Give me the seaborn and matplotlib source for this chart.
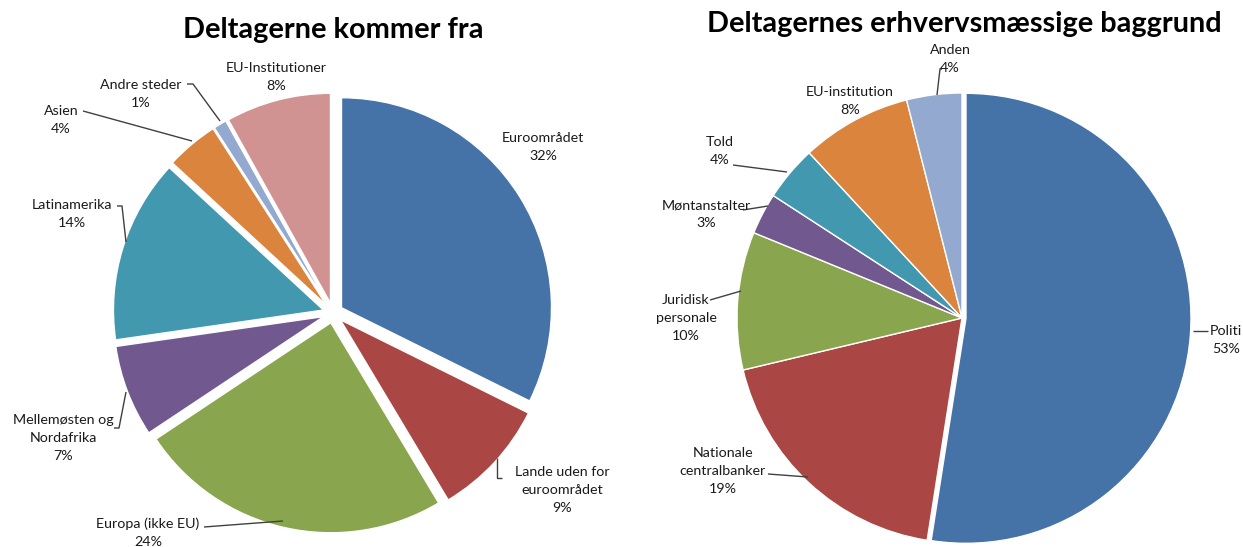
import numpy as np
import matplotlib
matplotlib.use("Agg")
import matplotlib.pyplot as plt
import seaborn as sns

# ---------------- data ----------------
left_title = "Deltagerne kommer fra"
left_labels = ["Euroområdet", "Lande uden for\neuroområdet", "Europa (ikke EU)",
               "Mellemøsten og\nNordafrika", "Latinamerika", "Asien",
               "Andre steder", "EU-Institutioner"]
left_values = [32, 9, 24, 7, 14, 4, 1, 8]

right_title = "Deltagernes erhvervsmæssige baggrund"
right_labels = ["Politi", "Nationale\ncentralbanker", "Juridisk\npersonale",
                "Møntanstalter", "Told", "EU-institution", "Anden"]
right_values = [53, 19, 10, 3, 4, 8, 4]

left_colors = ["#4572A7", "#AA4643", "#89A54E", "#71588F", "#4198AF",
               "#DB843D", "#93A9CF", "#D19392"]
right_colors = ["#4572A7", "#AA4643", "#89A54E", "#71588F", "#4198AF",
                "#DB843D", "#93A9CF"]

# ---------------- layout ----------------
W, H = 1243, 547
sns.set_theme(style="white")
plt.rcParams["font.family"] = ["Lato", "DejaVu Sans"]

fig = plt.figure(figsize=(W / 100, H / 100), dpi=100)
ax = fig.add_axes([0, 0, 1, 1])

def py(y):
    return H - y

# label text positions (pixel coords, center of text block) and leader polyline
left_layout = [
    dict(pos=(543, 147), line=None),
    dict(pos=(562, 490), line=[(502, 478), (497, 478), (497, 458)]),
    dict(pos=(148, 533), line=[(204, 527), (283, 521)]),
    dict(pos=(63, 438), line=[(114, 428), (119, 428), (126, 392)]),
    dict(pos=(72, 214), line=[(117, 206), (122, 206), (126, 242)]),
    dict(pos=(61, 120), line=[(83, 111), (192, 141)]),
    dict(pos=(141, 94), line=[(187, 84), (193, 84), (220, 121)]),
    dict(pos=(276, 77), line=None),
]
right_layout = [
    dict(pos=(1226, 340), line=[(1208, 331), (1193, 331)]),
    dict(pos=(723, 471), line=[(768, 474), (808, 477)]),
    dict(pos=(686, 318), line=[(710, 300), (741, 291)]),
    dict(pos=(706, 214), line=[(743, 210), (768, 206)]),
    dict(pos=(720, 151), line=[(733, 165), (787, 172)]),
    dict(pos=(850, 101), line=None),
    dict(pos=(950, 59), line=[(942, 69), (940, 69), (937, 95)]),
]

def draw_pie(values, colors, labels, layout, center, radius, explode, title, title_pos):
    cx, cy = center
    ax.pie(values, colors=colors, startangle=90, counterclock=False,
           center=(cx, py(cy)), radius=radius, explode=explode,
           wedgeprops=dict(edgecolor="white", linewidth=1.0))
    for lab, v, lay in zip(labels, values, layout):
        txt = f"{lab}\n{v}%"
        x, y = lay["pos"]
        ax.text(x, py(y), txt, ha="center", va="center", fontsize=10.3,
                color="#1a1a1a", linespacing=1.6)
        if lay["line"]:
            xs = [p[0] for p in lay["line"]]
            ys = [py(p[1]) for p in lay["line"]]
            ax.plot(xs, ys, color="#404040", lw=1.0, solid_capstyle="butt")
    ax.text(title_pos[0], py(title_pos[1]), title, ha="center", va="center",
            fontsize=20.8, fontweight="bold", color="black")

# explode is given in data units (pixels) here
draw_pie(left_values, left_colors, left_labels, left_layout,
         center=(333, 313), radius=210, explode=[10] * len(left_values),
         title=left_title, title_pos=(333, 30))
draw_pie(right_values, right_colors, right_labels, right_layout,
         center=(962, 318), radius=225,
         explode=[4] + [0] * (len(right_values) - 1),
         title=right_title, title_pos=(964, 24))

ax.set_xlim(0, W)
ax.set_ylim(0, H)
ax.set_aspect("equal")
ax.axis("off")
fig.savefig("out.png", dpi=100, facecolor="white")
